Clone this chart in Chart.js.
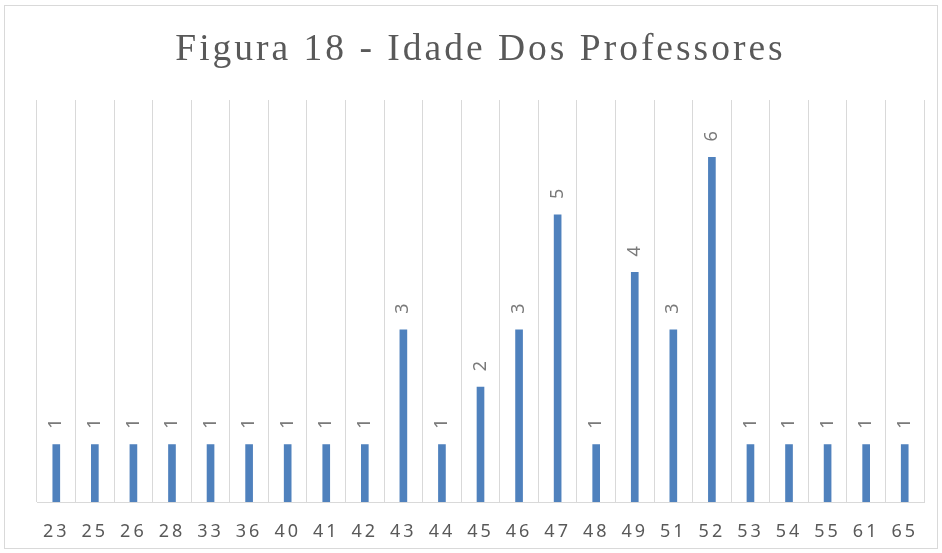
<!DOCTYPE html>
<html>
<head>
<meta charset="utf-8">
<script src="https://cdn.jsdelivr.net/npm/chart.js@4/dist/chart.umd.min.js"></script>
<style>
  html, body { margin: 0; padding: 0; background: #fff; }
  #wrap { position: relative; width: 942px; height: 553px; }
  #frame { position: absolute; left: 4px; top: 5px; width: 932px; height: 542px; border: 1px solid #d9d9d9; pointer-events: none; }
</style>
</head>
<body>
<div id="wrap">
  <canvas id="chart" width="942" height="553"></canvas>
  <div id="frame"></div>
</div>
<script>
// idades (eixo x) e numero de professores com cada idade
const idades = ['23', '25', '26', '28', '33', '36', '40', '41', '42', '43', '44', '45',
                '46', '47', '48', '49', '51', '52', '53', '54', '55', '61', '65'];
const professores = [1, 1, 1, 1, 1, 1, 1, 1, 1, 3, 1, 2, 3, 5, 1, 4, 3, 6, 1, 1, 1, 1, 1];
const eixoMax = 7;

const cinza = '#595959';

// espacamento entre letras como no grafico original
const espacamento = {
    id: 'espacamento',
    beforeDraw(chart) {
        chart.ctx.letterSpacing = '3px';
    }
};

// rotulos de dados rodados na vertical
const rotulos = {
    id: 'rotulos',
    afterDatasetsDraw(chart) {
        const ctx = chart.ctx;
        const meta = chart.getDatasetMeta(0);
        meta.data.forEach((bar, i) => {
            ctx.save();
            ctx.letterSpacing = '0px';
            ctx.translate(bar.x, bar.y - 21);
            ctx.rotate(-Math.PI / 2);
            ctx.font = '18px "Noto Sans"';
            ctx.fillStyle = '#7a7a7a';
            ctx.textAlign = 'center';
            ctx.textBaseline = 'middle';
            ctx.fillText(String(professores[i]), 0, 0);
            ctx.restore();
        });
    }
};

const chart = new Chart(document.getElementById('chart').getContext('2d'), {
    type: 'bar',
    data: {
        labels: idades,
        datasets: [{
            label: 'Professores',
            data: professores,
            backgroundColor: '#4f81bd',
            barThickness: 7
        }]
    },
    options: {
        responsive: false,
        animation: false,
        layout: { padding: { left: 37, right: 18, top: 0, bottom: 13 } },
        plugins: {
            legend: { display: false },
            tooltip: { enabled: false },
            title: {
                display: true,
                text: 'Figura 18 - Idade Dos Professores',
                color: cinza,
                font: { family: '"Liberation Serif", "Times New Roman", serif', size: 37.5, weight: 'normal' },
                padding: { top: 28, bottom: 27 }
            }
        },
        scales: {
            x: {
                grid: { color: '#d9d9d9', lineWidth: 1, drawTicks: false, offset: true },
                border: { color: '#d9d9d9', width: 1 },
                ticks: {
                    color: cinza,
                    font: { family: '"Noto Sans"', size: 18 },
                    padding: 19,
                    maxRotation: 0,
                    autoSkip: false
                },
                afterFit(scale) {
                    scale.height = 38;
                }
            },
            y: {
                display: false,
                min: 0,
                max: eixoMax
            }
        }
    },
    plugins: [espacamento, rotulos]
});
</script>
</body>
</html>
